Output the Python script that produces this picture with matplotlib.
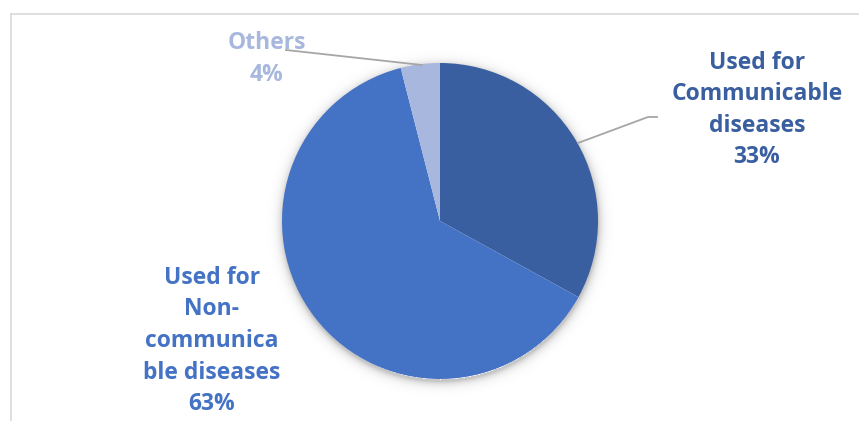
import numpy as np
import matplotlib.pyplot as plt

# -----------------------------
# Data
# -----------------------------
labels = ["Used for\nCommunicable\ndiseases", "Used for\nNon-\ncommunica\nble diseases", "Others"]
shares = [33, 63, 4]
colors = ["#3A5FA0", "#4472C4", "#A8B7DD"]

W, H = 859, 421
cx, cy, r = 440, 221, 158

fig = plt.figure(figsize=(W / 100, H / 100), dpi=100)
ax = fig.add_axes([0, 0, 1, 1])

# soft shadow round the pie
yy, xx = np.mgrid[0:H, 0:W]
d = np.hypot(xx - cx, yy - (cy + 2))
shade = np.clip(np.exp(-(d - r) / 4.0), 0, 1) * (d > r - 2)
rgba = np.zeros((H, W, 4))
rgba[..., 3] = shade * 0.22
ax.imshow(rgba, extent=(0, W, H, 0), zorder=1)

# y axis is flipped (pixel coords) -> start at -90 and go counterclockwise
ax.pie(shares, colors=colors, startangle=-90, counterclock=True,
       center=(cx, cy), radius=r, frame=True,
       wedgeprops=dict(linewidth=0, zorder=2))
ax.set_xlim(0, W)
ax.set_ylim(H, 0)
ax.set_aspect('equal')
ax.axis('off')

# chart border (only top & left visible in crop)
ax.plot([11, W], [14, 14], color="#D9D9D9", lw=1.2)
ax.plot([11, 11], [14, H], color="#D9D9D9", lw=1.2)

font = dict(family="Open Sans", fontweight="bold", fontsize=16.5, ha="center",
            va="center", linespacing=1.42)

# labels
ax.text(757, 110, labels[0] + "\n%d%%" % shares[0], color=colors[0], zorder=5, **font)
ax.text(212, 341, labels[1] + "\n%d%%" % shares[1], color=colors[1], zorder=5, **font)
ax.text(267, 59, labels[2] + "\n%d%%" % shares[2], color=colors[2], zorder=5, **font)

# leader lines
ax.plot([578, 648, 657], [143, 117, 117], color="#A6A6A6", lw=1.3, zorder=4)
ax.plot([286, 422], [50, 65], color="#A6A6A6", lw=1.3, zorder=4)

fig.savefig("out.png", dpi=100)
